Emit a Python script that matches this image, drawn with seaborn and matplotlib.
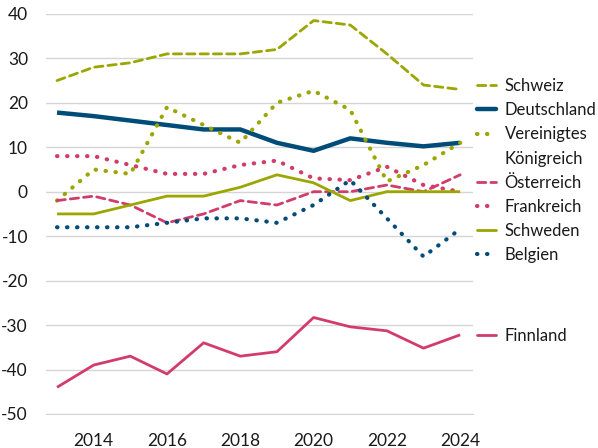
import pandas as pd
import matplotlib.pyplot as plt
import seaborn as sns
from matplotlib.lines import Line2D

years = list(range(2013, 2025))
schweiz = [25, 28, 29, 31, 31, 31, 32, 38.5, 37.5, 31, 24, 23]
deutschland = [17.8, 17, 16, 15, 14, 14, 11, 9.2, 12, 11, 10.2, 11]
vk = [-2, 5, 4, 19, 15, 11, 20, 22.7, 18.4, 2.3, 6, 11]
oesterreich = [-2, -1, -3, -7, -5, -2, -3, 0, 0, 1.5, 0, 3.8]
frankreich = [8, 8, 6, 4, 4, 6, 7, 3, 2.6, 5.6, 1.5, 0]
schweden = [-5, -5, -3, -1, -1, 1, 3.8, 2, -2, 0, 0, 0]
belgien = [-8, -8, -8, -7, -6, -6, -7, -3, 2.6, -6, -14.6, -8.4]
finnland = [-44, -39, -37, -41, -34, -37, -36, -28.3, -30.4, -31.3, -35.2, -32.2]

olive = "#9ba600"
blue = "#004c78"
pink = "#d23c6b"

series = [
    ("Schweiz", schweiz, olive, (0, (3, 1.8)), 2.0),
    ("Deutschland", deutschland, blue, "-", 3.2),
    ("Vereinigtes Königreich", vk, olive, (0, (0.1, 2.3)), 3.0),
    ("Österreich", oesterreich, pink, (0, (3, 1.8)), 2.0),
    ("Frankreich", frankreich, pink, (0, (0.1, 2.3)), 3.0),
    ("Schweden", schweden, olive, "-", 2.0),
    ("Belgien", belgien, blue, (0, (0.1, 2.3)), 3.0),
    ("Finnland", finnland, pink, "-", 2.0),
]

sns.set_style("white")
plt.rcParams['font.family'] = ['Lato', 'DejaVu Sans']
plt.rcParams['axes.unicode_minus'] = False
plt.rcParams['text.color'] = "#1a1a1a"

fig = plt.figure(figsize=(5.98, 4.48), dpi=100)
ax = fig.add_axes([0.077, 0.076, 0.714, 0.893])

for name, vals, col, ls, lw in series:
    df = pd.DataFrame({"Jahr": years, "Wert": vals})
    sns.lineplot(data=df, x="Jahr", y="Wert", ax=ax, color=col, linewidth=lw,
                 linestyle=ls, dash_capstyle="round", solid_capstyle="butt")

ax.set_xlim(2012.7, 2024.35)
ax.set_ylim(-50, 40)
ax.set_yticks(range(-50, 41, 10))
ax.set_xticks(years, minor=True)
ax.set_xticks(range(2014, 2025, 2))
ax.tick_params(axis='x', which='both', length=7, color="#cccccc", width=1, pad=7,
               labelsize=12.5, labelcolor="#1a1a1a")
ax.tick_params(axis='y', length=0, labelsize=12.5, pad=13, labelcolor="#1a1a1a")
ax.grid(axis='y', color="#d5d5d5", linewidth=1)
ax.set_axisbelow(True)
for s in ["top", "right", "left"]:
    ax.spines[s].set_visible(False)
ax.spines["bottom"].set_color("#d5d5d5")
ax.set_xlabel("")
ax.set_ylabel("")

# legend: the long name is split so its handle sits on the first line
handles, labels = [], []
for name, _, c, ls, lw in series:
    parts = name.split(" ") if name.startswith("Vereinigtes") else [name]
    handles.append(Line2D([0], [0], color=c, linestyle=ls, linewidth=lw, dash_capstyle="round"))
    labels.append(parts[0])
    for extra in parts[1:]:
        handles.append(Line2D([0], [0], color="none"))
        labels.append(extra)

leg_kw = dict(frameon=False, fontsize=12, handlelength=1.15, handletextpad=0.5,
              borderpad=0, borderaxespad=0.25)
leg1 = ax.legend(handles[:8], labels[:8], loc="upper left", bbox_to_anchor=(1.0, 0.85),
                 labelspacing=0.49, **leg_kw)
ax.add_artist(leg1)
ax.legend(handles[8:], labels[8:], loc="upper left", bbox_to_anchor=(1.0, 0.225), **leg_kw)

plt.savefig("out.png", dpi=100)
